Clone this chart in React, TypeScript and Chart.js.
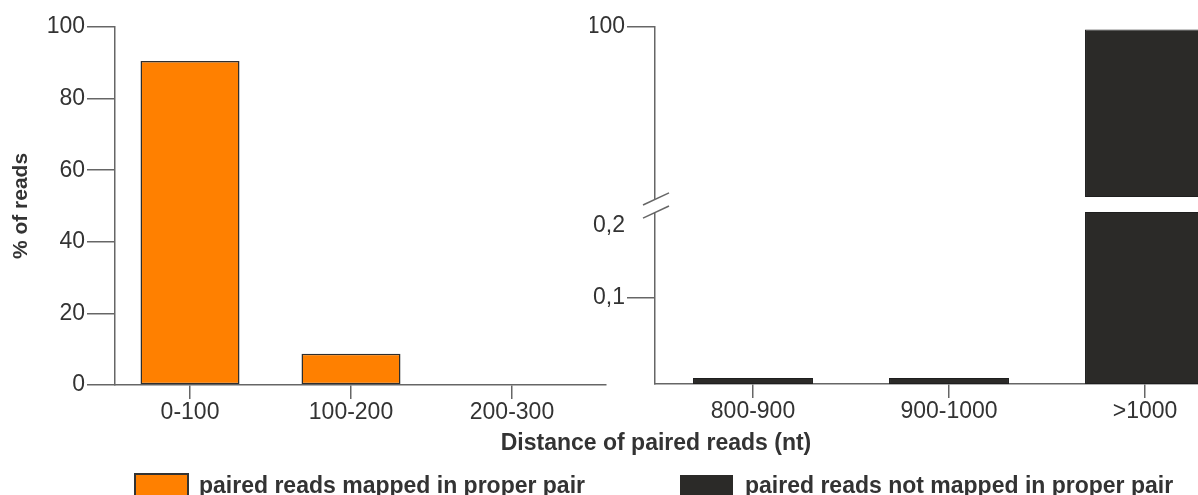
import React, { useEffect, useRef } from 'react';
import { Chart, registerables } from 'chart.js';

Chart.register(...registerables);

// ---------- data ----------
const leftCategories = ['0-100', '100-200', '200-300'];
const leftValues = [90.5, 8.7, 0];
const leftYTicks = [0, 20, 40, 60, 80, 100];

const rightCategories = ['800-900', '900-1000', '>1000'];
const rightValues = [0.007, 0.007, 99.985];
const rightYTickValues = [0.1, 0.2, 100];
const rightYTickLabels = ['0,1', '0,2', '100'];

const legendLabels = ['paired reads mapped in proper pair', 'paired reads not mapped in proper pair'];
const xTitle = 'Distance of paired reads (nt)';
const yTitle = '% of reads';

// ---------- style ----------
const FONT = "'Liberation Sans', Arial, Helvetica, sans-serif";
const TEXT = '#333333';
const AXIS = '#666666';
const ORANGE = '#ff8000';
const DARK = '#2b2a28';

// ---------- broken axis mapping (right panel) ----------
const LOW_MAX = 0.2;
const GAP = 0.0175;
const UPPER_FROM = 99;
const UPPER_TO = 100;
const UPPER_SPAN = 0.1976;
const DMAX = LOW_MAX + GAP + UPPER_SPAN;
const toDisplay = (v: number) =>
  v <= LOW_MAX
    ? v
    : v < UPPER_FROM
    ? LOW_MAX
    : LOW_MAX + GAP + ((v - UPPER_FROM) / (UPPER_TO - UPPER_FROM)) * UPPER_SPAN;

const tickFont = { family: FONT, size: 23 };

const overlayPlugin = {
  id: 'overlay',
  afterDraw(chart: any) {
    const ctx = chart.ctx;
    ctx.save();
    ctx.fillStyle = TEXT;
    ctx.font = `bold 23px ${FONT}`;
    ctx.textAlign = 'center';
    ctx.textBaseline = 'middle';
    ctx.fillText(xTitle, 656, 444);

    // legend
    ctx.textAlign = 'left';
    ctx.textBaseline = 'alphabetic';
    ctx.fillStyle = ORANGE;
    ctx.fillRect(135, 474, 53, 26);
    ctx.strokeStyle = '#333333';
    ctx.lineWidth = 2;
    ctx.strokeRect(135, 474, 53, 26);
    ctx.fillStyle = TEXT;
    ctx.fillText(legendLabels[0], 199, 493);

    ctx.fillStyle = DARK;
    ctx.fillRect(680, 475, 53, 26);
    ctx.fillStyle = TEXT;
    ctx.fillText(legendLabels[1], 745, 493);
    ctx.restore();
  },
};

const breakPlugin = {
  id: 'axisBreak',
  afterDraw(chart: any) {
    const ctx = chart.ctx;
    const y = chart.scales.y;
    const x0 = chart.chartArea.left;
    const yLow = y.getPixelForValue(LOW_MAX);
    const yHigh = y.getPixelForValue(LOW_MAX + GAP);
    ctx.save();
    ctx.fillStyle = '#ffffff';
    ctx.fillRect(x0 - 3, yHigh + 2, 6, yLow - yHigh - 1);
    ctx.strokeStyle = AXIS;
    ctx.lineWidth = 1.5;
    const slash = (cy: number) => {
      ctx.beginPath();
      ctx.moveTo(x0 - 12, cy + 5.6);
      ctx.lineTo(x0 + 14, cy - 6.5);
      ctx.stroke();
    };
    slash(yHigh + 2.5);
    slash(yLow + 0.5);
    ctx.restore();
  },
};

export default function App() {
  const leftRef = useRef<HTMLCanvasElement>(null);
  const rightRef = useRef<HTMLCanvasElement>(null);

  useEffect(() => {
    const left = new Chart(leftRef.current as HTMLCanvasElement, {
      type: 'bar',
      data: {
        datasets: [
          {
            data: leftValues.map((v, i) => ({ x: i, y: v })),
            backgroundColor: ORANGE,
            borderColor: '#2e2e2e',
            borderWidth: 1.5,
            borderSkipped: false,
            barPercentage: 0.615,
            categoryPercentage: 1,
          },
        ],
      },
      options: {
        responsive: false,
        animation: false,
        devicePixelRatio: 1,
        layout: { padding: { top: 27, right: 592, left: 0, bottom: 0 } },
        plugins: { legend: { display: false }, tooltip: { enabled: false } },
        scales: {
          x: {
            type: 'linear',
            min: -0.466,
            max: 2.584,
            offset: false,
            afterBuildTicks: (s: any) => {
              s.ticks = leftCategories.map((_, i) => ({ value: i }));
            },
            afterFit: (s: any) => {
              s.height = 110;
            },
            ticks: {
              callback: (v: any) => leftCategories[v] ?? '',
              font: tickFont,
              color: TEXT,
              padding: 0,
              maxRotation: 0,
              autoSkip: false,
            },
            grid: {
              offset: false,
              drawOnChartArea: false,
              tickLength: 14,
              color: AXIS,
              lineWidth: 1.5,
            },
            border: { color: AXIS, width: 1.5 },
          },
          y: {
            type: 'linear',
            min: 0,
            max: 100,
            afterBuildTicks: (s: any) => {
              s.ticks = leftYTicks.map((v) => ({ value: v }));
            },
            afterFit: (s: any) => {
              s.width = 115;
            },
            ticks: { font: tickFont, color: TEXT, padding: 2 },
            grid: {
              drawOnChartArea: false,
              tickLength: 28,
              color: AXIS,
              lineWidth: 1.5,
            },
            border: { color: AXIS, width: 1.5 },
            title: {
              display: true,
              text: yTitle,
              color: TEXT,
              font: { family: FONT, size: 21, weight: 'bold' },
              padding: { top: 9, bottom: 0 },
            },
          },
        },
      } as any,
      plugins: [overlayPlugin],
    });

    const right = new Chart(rightRef.current as HTMLCanvasElement, {
      type: 'bar',
      data: {
        labels: rightCategories,
        datasets: [
          {
            data: rightValues.map((v) => [0, Math.min(v, LOW_MAX)]),
            backgroundColor: DARK,
            borderColor: '#1e1e1e',
            borderWidth: 1,
            borderSkipped: false,
            grouped: false,
            barPercentage: 0.612,
            categoryPercentage: 1,
          },
          {
            data: rightValues.map((v) => (v > LOW_MAX ? [LOW_MAX + GAP, toDisplay(v)] : null)),
            backgroundColor: DARK,
            borderColor: '#1e1e1e',
            borderWidth: 1,
            borderSkipped: false,
            grouped: false,
            barPercentage: 0.612,
            categoryPercentage: 1,
          },
        ],
      },
      options: {
        responsive: false,
        animation: false,
        devicePixelRatio: 1,
        layout: { padding: { top: 27, right: 27, left: 0, bottom: 0 } },
        plugins: { legend: { display: false }, tooltip: { enabled: false } },
        scales: {
          x: {
            type: 'category',
            offset: true,
            afterFit: (s: any) => {
              s.height = 111;
            },
            ticks: { font: tickFont, color: TEXT, padding: 0, maxRotation: 0, autoSkip: false },
            grid: {
              offset: false,
              drawOnChartArea: false,
              tickLength: 14,
              color: AXIS,
              lineWidth: 1.5,
            },
            border: { color: AXIS, width: 1.5 },
          },
          y: {
            type: 'linear',
            min: 0,
            max: DMAX,
            afterBuildTicks: (s: any) => {
              s.ticks = rightYTickValues.map((v) => ({ value: toDisplay(v) }));
            },
            afterFit: (s: any) => {
              s.width = 65;
            },
            ticks: {
              // the "0,2" label sits just below the axis break in the original
              callback: (_v: any, i: number) =>
                rightYTickValues[i] === LOW_MAX ? ['', rightYTickLabels[i]] : rightYTickLabels[i],
              font: tickFont,
              color: TEXT,
              padding: 2,
            },
            grid: {
              drawOnChartArea: false,
              tickLength: 28,
              lineWidth: 1.5,
              color: AXIS,
              tickColor: (c: any) =>
                c.tick && Math.abs(c.tick.value - LOW_MAX) < 1e-9 ? 'rgba(0,0,0,0)' : AXIS,
            },
            border: { color: AXIS, width: 1.5 },
          },
        },
      } as any,
      plugins: [breakPlugin],
    });

    return () => {
      left.destroy();
      right.destroy();
    };
  }, []);

  return (
    <div
      style={{
        position: 'absolute',
        left: 0,
        top: 0,
        width: 1198,
        height: 495,
        overflow: 'hidden',
        background: '#ffffff',
      }}
    >
      <canvas
        ref={leftRef}
        width={1198}
        height={495}
        style={{ position: 'absolute', left: 0, top: 0, width: 1198, height: 495 }}
      />
      <canvas
        ref={rightRef}
        width={680}
        height={495}
        style={{ position: 'absolute', left: 590, top: 0, width: 680, height: 495 }}
      />
    </div>
  );
}
